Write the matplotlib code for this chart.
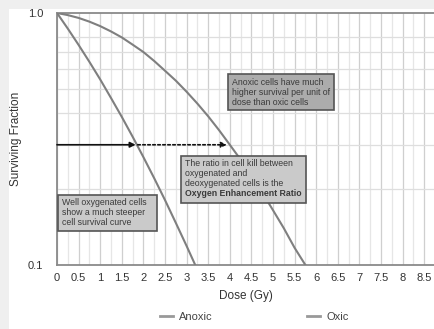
import matplotlib
matplotlib.use("Agg")
import matplotlib.pyplot as plt
from matplotlib.patches import Rectangle
from matplotlib.ticker import FixedLocator, NullFormatter

plt.rcParams["font.family"] = ["Liberation Sans", "DejaVu Sans"]

# Curves
oxic_dose = [0, 0.25, 0.5, 0.75, 1.0, 1.25, 1.5, 1.75, 2.0, 2.25, 2.5, 2.75, 3.0, 3.2]
oxic_sf = [1.0, 0.867, 0.747, 0.640, 0.545, 0.460, 0.387, 0.323, 0.268, 0.221,
           0.181, 0.147, 0.119, 0.100]

anoxic_dose = [0, 0.25, 0.5, 0.75, 1.0, 1.25, 1.5, 1.75, 2.0, 2.25, 2.5, 2.75,
               3.0, 3.25, 3.5, 3.75, 4.0, 4.25, 4.5, 4.75, 5.0, 5.25, 5.5, 5.75]
anoxic_sf = [1.0, 0.981, 0.956, 0.924, 0.887, 0.845, 0.80, 0.749, 0.70, 0.645,
             0.59, 0.539, 0.487, 0.437, 0.389, 0.343, 0.30, 0.262, 0.226, 0.194,
             0.165, 0.140, 0.117, 0.100]

x_ticks = [0, 0.5, 1, 1.5, 2, 2.5, 3, 3.5, 4, 4.5, 5, 5.5, 6, 6.5, 7, 7.5, 8, 8.5]
x_tick_labels = ["0", "0.5", "1", "1.5", "2", "2.5", "3", "3.5", "4", "4.5",
                 "5", "5.5", "6", "6.5", "7", "7.5", "8", "8.5"]

# OER arrow
arrow_sf = 0.3
arrow_oxic = 1.82
arrow_anoxic = 3.93

fig = plt.figure(figsize=(4.35, 3.29), dpi=100)
fig.patch.set_facecolor("white")

# grey strips at top and left edge
fig.patches.append(Rectangle((0, 1 - 9 / 329), 1, 9 / 329, transform=fig.transFigure,
                             facecolor="#efefef", edgecolor="none", zorder=-1))
fig.patches.append(Rectangle((0, 0), 9 / 435, 1, transform=fig.transFigure,
                             facecolor="#efefef", edgecolor="none", zorder=-1))

ax = fig.add_axes([57 / 435, 1 - 265 / 329, 378 / 435, 252 / 329])
ax.set_yscale("log")
ax.set_xlim(0, 8.75)
ax.set_ylim(0.1, 1.0)

# grid
for i in range(36):
    xv = i * 0.25
    col = "#cfcfcf" if i % 2 == 0 else "#e6e6e6"
    ax.axvline(xv, color=col, lw=0.9, zorder=1)
for yv in [0.2, 0.3, 0.4, 0.5, 0.6, 0.7, 0.8]:
    ax.axhline(yv, color="#dedede", lw=0.9, zorder=1)

ax.plot(oxic_dose, oxic_sf, color="#7f7f7f", lw=1.5, label="Anoxic", zorder=3)
ax.plot(anoxic_dose, anoxic_sf, color="#7f7f7f", lw=1.5, label="Oxic", zorder=3)

# arrows
ax.annotate("", xy=(arrow_oxic, arrow_sf), xytext=(0.0, arrow_sf),
            arrowprops=dict(arrowstyle="-|>", color="#111111", lw=1.2,
                            mutation_scale=8, shrinkA=0, shrinkB=0), zorder=4)
ax.annotate("", xy=(arrow_anoxic, arrow_sf), xytext=(arrow_oxic + 0.05, arrow_sf),
            arrowprops=dict(arrowstyle="-|>", color="#111111", lw=1.2, ls=(0, (1.5, 1.5)),
                            mutation_scale=8, shrinkA=0, shrinkB=0), zorder=4)

ax.set_xticks(x_ticks)
ax.set_xticklabels(x_tick_labels)
ax.yaxis.set_major_locator(FixedLocator([0.1, 1.0]))
ax.yaxis.set_minor_formatter(NullFormatter())
ax.yaxis.set_minor_locator(FixedLocator([]))
ax.set_yticklabels(["0.1", "1.0"])
ax.tick_params(length=0, labelsize=8, colors="#333333", pad=6)
ax.tick_params(axis="y", pad=10)

for s in ["left", "bottom", "top"]:
    ax.spines[s].set_color("#8a8a8a")
    ax.spines[s].set_linewidth(1.3)
ax.spines["right"].set_visible(False)

ax.set_xlabel("Dose (Gy)", fontsize=8.5, color="#333333", labelpad=5)
ax.set_ylabel("Surviving Fraction", fontsize=8.5, color="#333333")
ax.yaxis.set_label_coords(-0.093, 0.5)


def px_box(x0, y0, x1, y1, fill):
    # box given in figure pixel coordinates
    r = Rectangle((x0 / 435, 1 - y1 / 329), (x1 - x0) / 435, (y1 - y0) / 329,
                  transform=fig.transFigure, facecolor=fill, edgecolor="#555555",
                  lw=1.2, zorder=5)
    fig.patches.append(r)


def px_text(x, y, s, **kw):
    fig.text(x / 435, 1 - y / 329, s, fontsize=6.3, color="#3a3a3a", va="top",
             ha="left", linespacing=1.15, zorder=6, **kw)


px_box(228, 74, 334, 110, "#acacac")
px_text(232, 78, "Anoxic cells have much\nhigher survival per unit of\ndose than oxic cells")

px_box(181, 156, 306, 203, "#cacaca")
px_text(185, 159, "The ratio in cell kill between\noxygenated and\ndeoxygenated cells is the")
px_text(185, 189, "Oxygen Enhancement Ratio", fontweight="bold")

px_box(58, 195, 157, 231, "#cacaca")
px_text(62, 198, "Well oxygenated cells\nshow a much steeper\ncell survival curve")

handles, labels = ax.get_legend_handles_labels()
leg = fig.legend(handles, labels, loc="lower center", bbox_to_anchor=(0.585, -0.01),
                 ncol=2, frameon=False, fontsize=8, handlelength=1.1,
                 columnspacing=8.5, handletextpad=0.6)
for t in leg.get_texts():
    t.set_color("#444444")
for h in leg.legend_handles:
    h.set_color("#999999")
    h.set_linewidth(2)

fig.savefig("out.png", dpi=100)
